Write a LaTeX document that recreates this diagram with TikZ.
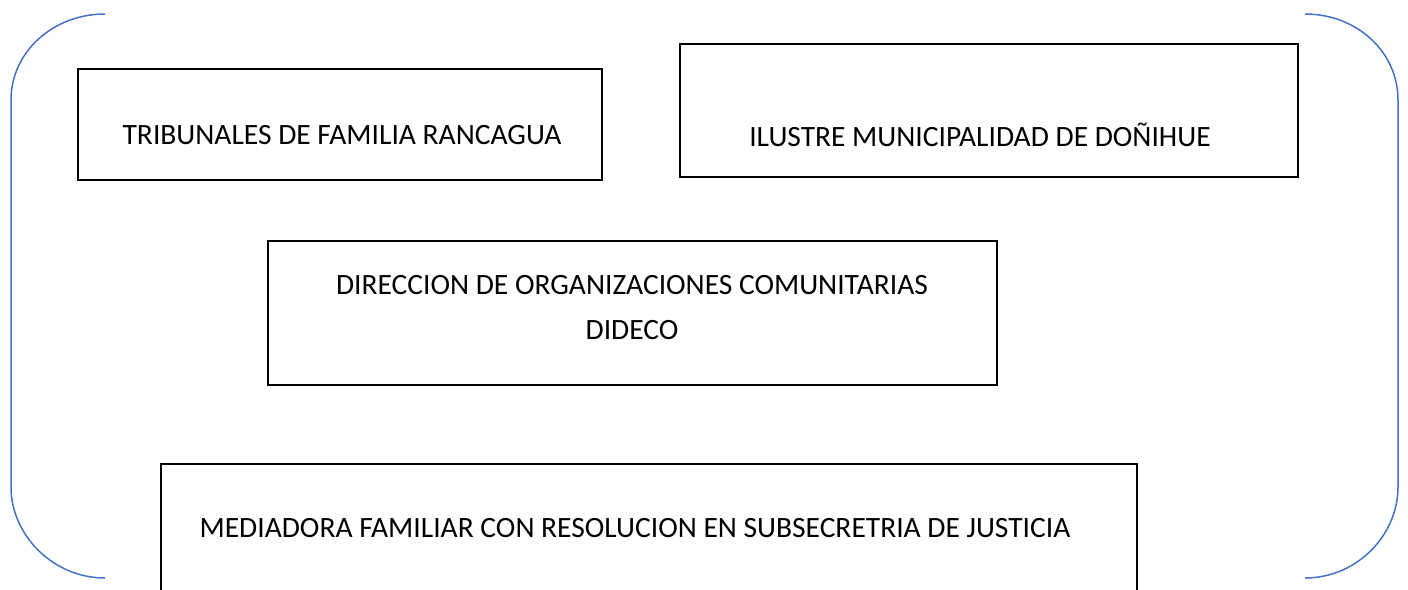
\documentclass[tikz,border=0pt]{standalone}
\usepackage{fontspec}
\setmainfont{Carlito}
\definecolor{brkblue}{RGB}{68,114,196}
\begin{document}
\begin{tikzpicture}[x=1pt, y=-1pt,
		box/.style={draw, line width=2.8pt, inner sep=0pt},
		lbl/.style={font=\fontsize{29.5}{35}\selectfont, inner sep=0pt, anchor=center},
		brk/.style={draw=brkblue, line width=1.5pt}]
		\useasboundingbox (0,0) rectangle (1408,589);
		
		% brackets
		\draw[brk] (105,14) .. controls (53,14) and (11,52) .. (11,100) -- (11,487) .. controls (11,535) and (53,578) .. (105,578);
		\draw[brk] (1305,14) .. controls (1357,14) and (1398,52) .. (1398,100) -- (1398,487) .. controls (1398,535) and (1357,578) .. (1305,578);
		
		% boxes
		\node[box, minimum width=524, minimum height=111] (trib) at (340,124.5) {};
		\node[box, minimum width=618, minimum height=133] (muni) at (989,110.5) {};
		\node[box, minimum width=729, minimum height=144] (dideco) at (632.5,313) {};
		\node[box, minimum width=976, minimum height=140] (medi) at (649,534) {};
		
		\node[lbl] (tribtxt) at (342,135) {TRIBUNALES DE FAMILIA RANCAGUA};
		\node[lbl] (munitxt) at (980,135) {ILUSTRE MUNICIPALIDAD DE DOÑIHUE};
		\node[lbl] (didecotxt1) at (632,285) {DIRECCION DE ORGANIZACIONES COMUNITARIAS};
		\node[lbl] (didecotxt2) at (632,330) {DIDECO};
		\node[lbl] (meditxt) at (635,528) {MEDIADORA FAMILIAR CON RESOLUCION EN SUBSECRETRIA DE JUSTICIA};
	\end{tikzpicture}
\end{document}
